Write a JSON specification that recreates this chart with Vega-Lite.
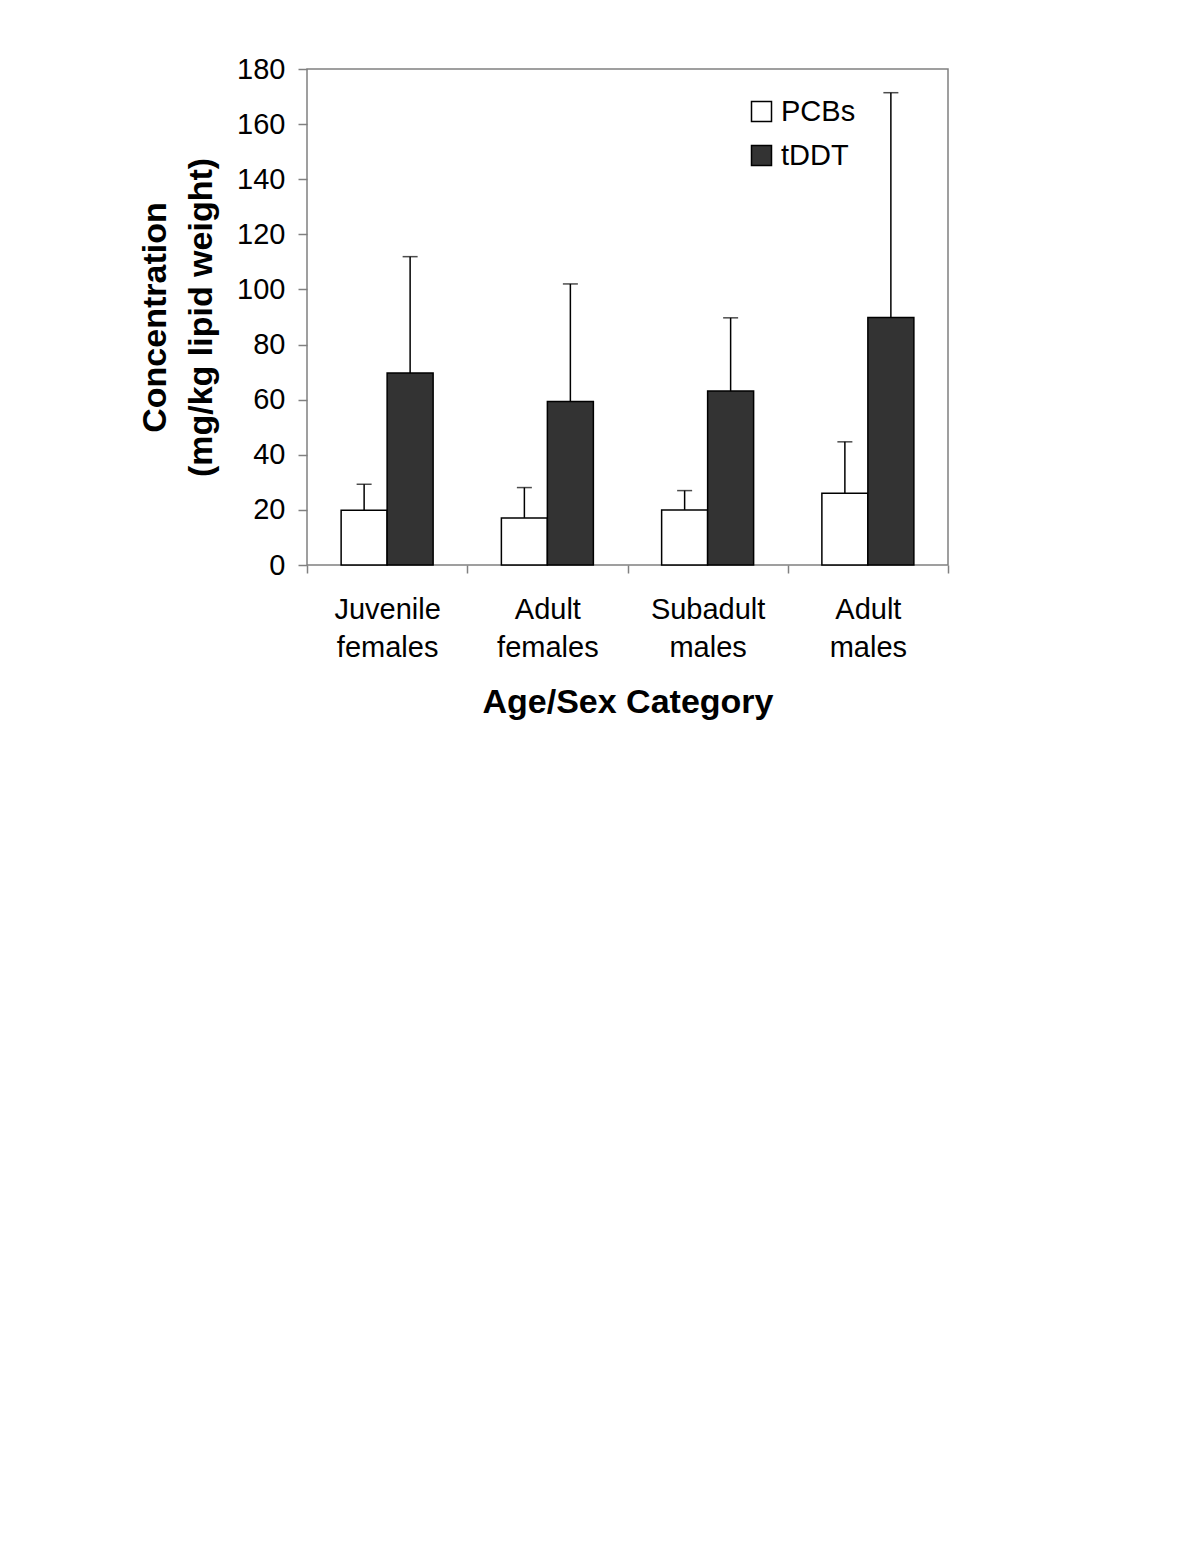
{
  "$schema": "https://vega.github.io/schema/vega-lite/v6.json",
  "width": 641,
  "height": 496,
  "autosize": {"type": "none"},
  "padding": {"left": 307, "top": 69, "right": 250, "bottom": 986},
  "background": "white",
  "config": {
    "font": "Liberation Sans",
    "view": {"stroke": "#808080", "strokeWidth": 1.5}
  },
  "data": {
    "values": [
      {"category": "Juvenile females", "series": "PCBs", "value": 19.9, "upper": 29.3},
      {"category": "Juvenile females", "series": "tDDT", "value": 69.7, "upper": 111.9},
      {"category": "Adult females", "series": "PCBs", "value": 17.1, "upper": 28.1},
      {"category": "Adult females", "series": "tDDT", "value": 59.3, "upper": 102},
      {"category": "Subadult males", "series": "PCBs", "value": 20, "upper": 27},
      {"category": "Subadult males", "series": "tDDT", "value": 63.1, "upper": 89.7},
      {"category": "Adult males", "series": "PCBs", "value": 26, "upper": 44.7},
      {"category": "Adult males", "series": "tDDT", "value": 89.8, "upper": 171.4}
    ]
  },
  "encoding": {
    "x": {
      "field": "category",
      "type": "nominal",
      "sort": ["Juvenile females", "Adult females", "Subadult males", "Adult males"],
      "scale": {"paddingInner": 0, "paddingOuter": 0},
      "axis": {
        "title": "Age/Sex Category",
        "titleFontSize": 34,
        "titleFontWeight": "bold",
        "titleColor": "black",
        "titlePadding": 23,
        "labelExpr": "split(datum.label, ' ')",
        "labelAngle": 0,
        "labelFontSize": 29,
        "labelColor": "black",
        "labelLineHeight": 38,
        "labelPadding": 22,
        "domain": false,
        "ticks": true,
        "tickBand": "extent",
        "tickSize": 8,
        "tickColor": "#808080",
        "tickWidth": 1.5
      }
    },
    "xOffset": {
      "field": "series",
      "type": "nominal",
      "sort": ["PCBs", "tDDT"],
      "scale": {"paddingInner": 0, "paddingOuter": 0.742}
    }
  },
  "layer": [
    {
      "mark": {"type": "bar", "stroke": "black", "strokeWidth": 1.5},
      "encoding": {
        "y": {
          "field": "value",
          "type": "quantitative",
          "scale": {"domain": [0, 180], "nice": false},
          "axis": {
            "title": ["Concentration", "(mg/kg lipid weight)"],
            "titleFontSize": 34,
            "titleFontWeight": "bold",
            "titleColor": "black",
            "titleLineHeight": 46,
            "titlePadding": 18,
            "values": [0, 20, 40, 60, 80, 100, 120, 140, 160, 180],
            "grid": false,
            "domain": false,
            "tickSize": 9,
            "tickColor": "#808080",
            "tickWidth": 1.5,
            "labelFontSize": 29,
            "labelColor": "black",
            "labelPadding": 13
          }
        },
        "color": {
          "field": "series",
          "type": "nominal",
          "sort": ["PCBs", "tDDT"],
          "scale": {"domain": ["PCBs", "tDDT"], "range": ["#ffffff", "#333333"]},
          "legend": {
            "title": null,
            "orient": "none",
            "legendX": 440,
            "legendY": 28,
            "padding": 0,
            "symbolType": "square",
            "symbolSize": 400,
            "symbolStrokeColor": "black",
            "symbolStrokeWidth": 1.5,
            "symbolOpacity": 1,
            "labelFontSize": 29,
            "labelColor": "black",
            "labelOffset": 5,
            "rowPadding": 14
          }
        }
      }
    },
    {
      "mark": {"type": "rule", "color": "black", "strokeWidth": 1.5},
      "encoding": {
        "y": {"field": "value", "type": "quantitative"},
        "y2": {"field": "upper"}
      }
    },
    {
      "mark": {"type": "tick", "color": "black", "size": 15, "thickness": 1.5},
      "encoding": {
        "y": {"field": "upper", "type": "quantitative"}
      }
    }
  ]
}
